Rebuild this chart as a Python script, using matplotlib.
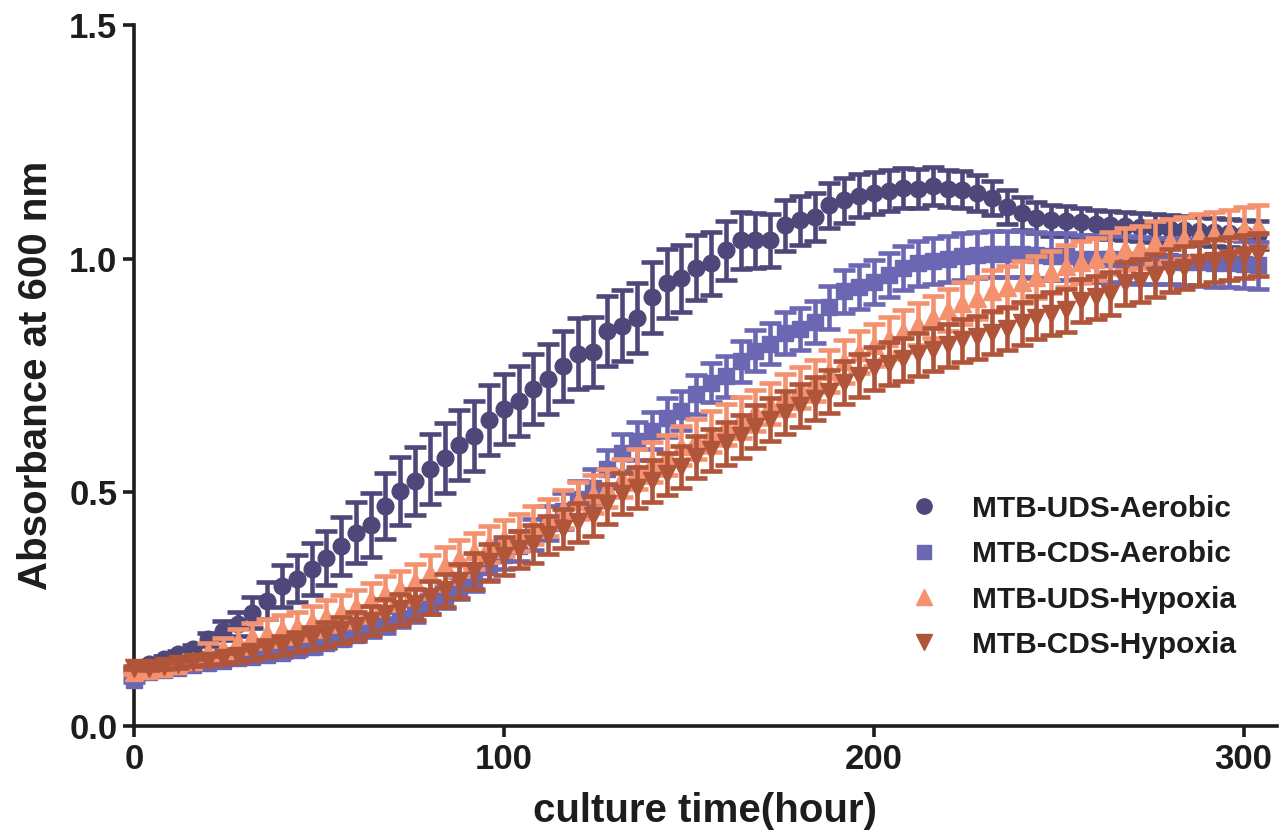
import matplotlib
matplotlib.use("Agg")
import matplotlib.pyplot as plt
from matplotlib.lines import Line2D
import numpy as np

plt.rcParams['font.family'] = ['Liberation Sans', 'DejaVu Sans']
plt.rcParams['font.weight'] = 'bold'

# sampling times (hours), one reading every 4 h
time_h = np.arange(0, 305, 4)

uds_aerobic = [0.120, 0.133, 0.143, 0.154, 0.165, 0.186, 0.204, 0.218, 0.242, 0.268,
               0.300, 0.315, 0.336, 0.360, 0.386, 0.414, 0.430, 0.471, 0.503, 0.525,
               0.550, 0.574, 0.602, 0.620, 0.654, 0.678, 0.695, 0.722, 0.743, 0.771,
               0.797, 0.800, 0.846, 0.857, 0.874, 0.917, 0.947, 0.958, 0.981, 0.990,
               1.018, 1.039, 1.039, 1.039, 1.071, 1.082, 1.089, 1.114, 1.125, 1.135,
               1.140, 1.145, 1.152, 1.150, 1.155, 1.150, 1.148, 1.140, 1.130, 1.110,
               1.097, 1.088, 1.082, 1.080, 1.078, 1.075, 1.072, 1.070, 1.068, 1.066,
               1.064, 1.062, 1.060, 1.058, 1.055, 1.052, 1.050]
uds_aerobic_sd = [0.004, 0.005, 0.006, 0.007, 0.009, 0.014, 0.020, 0.026, 0.033, 0.040,
                  0.045, 0.050, 0.055, 0.058, 0.062, 0.065, 0.068, 0.070, 0.072, 0.073,
                  0.074, 0.075, 0.075, 0.075, 0.075, 0.075, 0.075, 0.075, 0.075, 0.075,
                  0.075, 0.075, 0.075, 0.075, 0.075, 0.075, 0.073, 0.072, 0.070, 0.067,
                  0.063, 0.061, 0.059, 0.057, 0.055, 0.053, 0.051, 0.049, 0.048, 0.046,
                  0.045, 0.044, 0.043, 0.042, 0.041, 0.040, 0.039, 0.038, 0.037, 0.036,
                  0.035, 0.034, 0.033, 0.032, 0.031, 0.030, 0.030, 0.030, 0.030, 0.030,
                  0.030, 0.030, 0.030, 0.030, 0.030, 0.030, 0.030]

cds_aerobic = [0.098, 0.115, 0.120, 0.125, 0.130, 0.135, 0.140, 0.145, 0.148, 0.152,
               0.156, 0.162, 0.168, 0.178, 0.186, 0.195, 0.205, 0.215, 0.228, 0.240,
               0.260, 0.275, 0.295, 0.315, 0.340, 0.365, 0.385, 0.410, 0.435, 0.460,
               0.485, 0.510, 0.550, 0.585, 0.610, 0.632, 0.660, 0.675, 0.710, 0.735,
               0.748, 0.780, 0.803, 0.818, 0.840, 0.850, 0.865, 0.896, 0.930, 0.940,
               0.950, 0.965, 0.980, 0.990, 0.995, 1.000, 1.005, 1.008, 1.010, 1.010,
               1.010, 1.008, 1.005, 1.005, 1.000, 1.000, 1.000, 0.998, 0.996, 0.995,
               0.995, 0.993, 0.992, 0.990, 0.990, 0.988, 0.986]
cds_aerobic_sd = [0.004, 0.004, 0.004, 0.005, 0.005, 0.005, 0.006, 0.006, 0.007, 0.008,
                  0.009, 0.010, 0.011, 0.012, 0.013, 0.014, 0.015, 0.016, 0.017, 0.018,
                  0.020, 0.022, 0.024, 0.026, 0.028, 0.030, 0.032, 0.034, 0.036, 0.038,
                  0.040, 0.040, 0.040, 0.040, 0.040, 0.040, 0.042, 0.042, 0.042, 0.042,
                  0.044, 0.044, 0.044, 0.044, 0.045, 0.045, 0.045, 0.046, 0.046, 0.047,
                  0.047, 0.048, 0.048, 0.048, 0.049, 0.049, 0.050, 0.050, 0.050, 0.050,
                  0.050, 0.050, 0.050, 0.050, 0.050, 0.050, 0.050, 0.050, 0.050, 0.050,
                  0.050, 0.050, 0.050, 0.050, 0.050, 0.050, 0.050]

uds_hypoxia = [0.115, 0.120, 0.125, 0.130, 0.140, 0.160, 0.167, 0.182, 0.193, 0.200,
               0.208, 0.214, 0.225, 0.236, 0.246, 0.257, 0.272, 0.285, 0.296, 0.310,
               0.328, 0.344, 0.360, 0.375, 0.390, 0.402, 0.414, 0.430, 0.446, 0.464,
               0.482, 0.497, 0.510, 0.530, 0.550, 0.565, 0.580, 0.600, 0.615, 0.630,
               0.645, 0.660, 0.675, 0.690, 0.710, 0.725, 0.740, 0.760, 0.780, 0.800,
               0.815, 0.830, 0.845, 0.860, 0.875, 0.890, 0.905, 0.915, 0.930, 0.940,
               0.950, 0.960, 0.972, 0.985, 0.992, 1.000, 1.012, 1.020, 1.025, 1.035,
               1.040, 1.045, 1.050, 1.055, 1.060, 1.065, 1.070]
uds_hypoxia_sd = [0.004, 0.005, 0.006, 0.008, 0.012, 0.018, 0.022, 0.025, 0.027, 0.029,
                  0.030, 0.031, 0.032, 0.033, 0.034, 0.035, 0.035, 0.036, 0.036, 0.037,
                  0.037, 0.038, 0.038, 0.038, 0.039, 0.039, 0.040, 0.040, 0.040, 0.040,
                  0.040, 0.041, 0.041, 0.041, 0.042, 0.042, 0.042, 0.042, 0.043, 0.043,
                  0.043, 0.043, 0.044, 0.044, 0.044, 0.044, 0.044, 0.045, 0.045, 0.045,
                  0.045, 0.045, 0.045, 0.045, 0.045, 0.045, 0.045, 0.045, 0.045, 0.045,
                  0.045, 0.045, 0.045, 0.045, 0.045, 0.045, 0.045, 0.045, 0.045, 0.045,
                  0.045, 0.045, 0.045, 0.045, 0.045, 0.045, 0.045]

cds_hypoxia = [0.125, 0.125, 0.128, 0.132, 0.136, 0.140, 0.145, 0.150, 0.158, 0.165,
               0.172, 0.180, 0.188, 0.196, 0.205, 0.215, 0.225, 0.240, 0.250, 0.260,
               0.275, 0.290, 0.310, 0.332, 0.350, 0.364, 0.378, 0.390, 0.408, 0.422,
               0.436, 0.450, 0.475, 0.497, 0.510, 0.525, 0.540, 0.555, 0.575, 0.590,
               0.605, 0.620, 0.640, 0.655, 0.670, 0.685, 0.700, 0.715, 0.735, 0.750,
               0.765, 0.775, 0.785, 0.795, 0.805, 0.815, 0.825, 0.832, 0.842, 0.850,
               0.862, 0.874, 0.882, 0.890, 0.910, 0.917, 0.925, 0.947, 0.953, 0.964,
               0.975, 0.981, 0.990, 0.996, 1.000, 1.005, 1.010]
cds_hypoxia_sd = [0.004, 0.005, 0.006, 0.007, 0.008, 0.010, 0.012, 0.014, 0.016, 0.018,
                  0.020, 0.022, 0.024, 0.026, 0.028, 0.030, 0.031, 0.032, 0.033, 0.034,
                  0.035, 0.036, 0.037, 0.038, 0.039, 0.040, 0.040, 0.041, 0.041, 0.042,
                  0.042, 0.043, 0.043, 0.044, 0.044, 0.045, 0.045, 0.045, 0.045, 0.045,
                  0.046, 0.046, 0.046, 0.046, 0.046, 0.046, 0.046, 0.046, 0.046, 0.046,
                  0.046, 0.046, 0.046, 0.046, 0.046, 0.046, 0.046, 0.046, 0.046, 0.046,
                  0.046, 0.046, 0.046, 0.046, 0.046, 0.046, 0.046, 0.046, 0.046, 0.046,
                  0.046, 0.046, 0.046, 0.046, 0.046, 0.046, 0.046]

series_names = ['MTB-UDS-Aerobic', 'MTB-CDS-Aerobic', 'MTB-UDS-Hypoxia', 'MTB-CDS-Hypoxia']
series_values = [uds_aerobic, cds_aerobic, uds_hypoxia, cds_hypoxia]
series_errors = [uds_aerobic_sd, cds_aerobic_sd, uds_hypoxia_sd, cds_hypoxia_sd]
colors = ['#4D4879', '#6C67B3', '#F4926F', '#B0543A']
markers = ['o', 's', '^', 'v']
msizes = [12, 11, 13, 13]

ink = '#1E1C1D'

fig = plt.figure(figsize=(12.82, 8.34), dpi=100)
ax = fig.add_axes([0.1045, 0.1295, 0.8915, 0.8405])

for i in range(4):
    ax.errorbar(time_h, series_values[i], yerr=series_errors[i],
                fmt=markers[i], color=colors[i], ms=msizes[i], mec=colors[i],
                elinewidth=3.3, capsize=8, capthick=3.3, linestyle='none',
                clip_on=False, zorder=3 + i)

ax.set_xlim(0, 309)
ax.set_ylim(0, 1.5)
ax.set_xticks([0, 100, 200, 300])
ax.set_yticks([0, 0.5, 1.0, 1.5])
ax.set_yticklabels(['0.0', '0.5', '1.0', '1.5'])

for s in ['top', 'right']:
    ax.spines[s].set_visible(False)
for s in ['left', 'bottom']:
    ax.spines[s].set_linewidth(2.6)
    ax.spines[s].set_color(ink)

ax.tick_params(axis='both', direction='out', length=8, width=2.6, color=ink,
               labelsize=25, labelcolor=ink, pad=4)
for lab in ax.get_xticklabels() + ax.get_yticklabels():
    lab.set_fontweight('bold')

ax.set_xlabel('culture time(hour)', fontsize=29, fontweight='bold', color=ink, labelpad=12)
ax.set_ylabel('Absorbance at 600 nm', fontsize=29, fontweight='bold', color=ink, labelpad=10)

handles = [Line2D([], [], marker=markers[i], color=colors[i], linestyle='none',
                  ms=msizes[i] - 1) for i in range(4)]
leg = ax.legend(handles, series_names, loc='upper left', bbox_to_anchor=(0.652, 0.368),
                frameon=False, fontsize=21.5, handletextpad=1.0, labelspacing=0.58,
                handlelength=1.2)
for t in leg.get_texts():
    t.set_fontweight('bold')
    t.set_color(ink)

fig.savefig('out.png', dpi=100)
